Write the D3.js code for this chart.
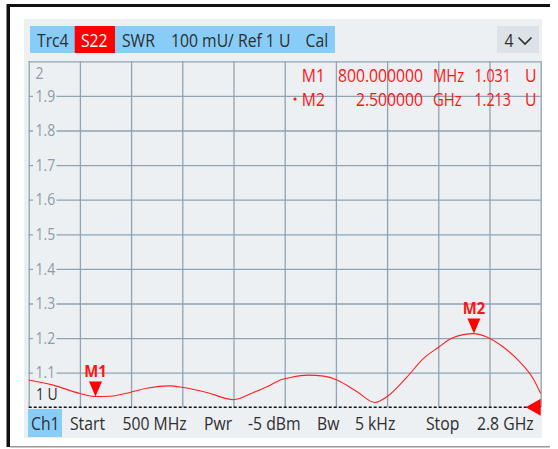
<!DOCTYPE html>
<html>
<head>
<meta charset="utf-8">
<script src="https://cdn.jsdelivr.net/npm/d3@7"></script>
<style>
  html, body { margin: 0; padding: 0; background: #ffffff; }
  svg { display: block; }
  text { font-family: "Open Sans", "Noto Sans", sans-serif; }
</style>
</head>
<body>
<svg id="chart" width="558" height="449"></svg>
<script>
// ---------------- data ----------------
const freqMHz = [500, 610, 730, 800, 865, 955, 1030, 1135, 1195, 1300, 1420, 1510, 1585, 1630,
                 1675, 1755, 1825, 1885, 1975, 2055, 2110, 2200, 2275, 2340, 2405, 2500, 2555,
                 2630, 2705, 2765, 2800];
const swr     = [1.079, 1.064, 1.040, 1.031, 1.032, 1.043, 1.055, 1.062, 1.057, 1.043, 1.022, 1.043,
                 1.064, 1.079, 1.086, 1.093, 1.090, 1.079, 1.045, 1.014, 1.031, 1.088, 1.142, 1.173,
                 1.201, 1.213, 1.204, 1.175, 1.132, 1.084, 1.040];
const yTicks = [1.0, 1.1, 1.2, 1.3, 1.4, 1.5, 1.6, 1.7, 1.8, 1.9, 2.0];
const yTickLabels = ["1 U", "1.1", "1.2", "1.3", "1.4", "1.5", "1.6", "1.7", "1.8", "1.9", "2"];
const xTicks = [500, 730, 960, 1190, 1420, 1650, 1880, 2110, 2340, 2570, 2800];
const markerNames = ["M1", "M2"];
const markerFreqs = [800, 2500];
const markerVals = [1.031, 1.213];
const markerFreqText = ["800.000000", "2.500000"];
const markerUnitText = ["MHz", "GHz"];
const headerItems = ["Trc4", "S22", "SWR", "100 mU/ Ref 1 U", "Cal"];
const footerItems = ["Ch1", "Start", "500 MHz", "Pwr", "-5 dBm", "Bw", "5 kHz", "Stop", "2.8 GHz"];
const channelNumber = "4";

// ---------------- layout ----------------
const svg = d3.select("#chart");
const L = 28.7, R = 540.7, T = 61.3, B = 407.3;
const x = d3.scaleLinear().domain([500, 2800]).range([L, R]);
const y = d3.scaleLinear().domain([1, 2]).range([B, T]);

const RED = "#ff1414", BLUE = "#87cdf8", PANEL = "#edf0f3", GRID = "#8fa3b3",
      TICK = "#8e9ba8", DARK = "#2e2e2e";
const SX = 0.9;

function txt(g, s, px, py, size, fill, anchor, weight, sx) {
  return g.append("text")
    .attr("transform", `translate(${px},${py}) scale(${sx || SX},1)`)
    .attr("font-size", size)
    .attr("fill", fill)
    .attr("text-anchor", anchor || "start")
    .attr("font-weight", weight || "normal")
    .text(s);
}

// outer frame
svg.append("rect").attr("x", 7).attr("y", 4).attr("width", 543).attr("height", 3).attr("fill", "#111");
svg.append("rect").attr("x", 6.5).attr("y", 4).attr("width", 3.5).attr("height", 443).attr("fill", "#111");
svg.append("rect").attr("x", 10).attr("y", 446).attr("width", 540).attr("height", 1.5).attr("fill", "#9a9a9a");

// panel background
svg.append("rect").attr("x", 24).attr("y", 19).attr("width", 518).attr("height", 419).attr("fill", PANEL);

// header bar
const hdr = svg.append("g");
hdr.append("rect").attr("x", 30).attr("y", 26).attr("width", 305).attr("height", 27).attr("fill", BLUE);
hdr.append("rect").attr("x", 74.7).attr("y", 26).attr("width", 40.3).attr("height", 27).attr("fill", "#ff0000");
const hdrX = [37, 81, 122, 171, 305.5];
headerItems.forEach((s, i) => txt(hdr, s, hdrX[i], 47, 17.5, i === 1 ? "#ffffff" : DARK));
hdr.append("rect").attr("x", 497).attr("y", 26).attr("width", 42).attr("height", 27).attr("fill", "#dce2e7");
txt(hdr, channelNumber, 504.5, 47, 17.5, DARK);
hdr.append("path").attr("d", "M518.5,37.5 L525,44 L531.5,37.5").attr("fill", "none")
  .attr("stroke", DARK).attr("stroke-width", 1.6);

// grid via axes
const gx = svg.append("g").attr("transform", `translate(0,${B})`)
  .call(d3.axisBottom(x).tickValues(xTicks).tickSize(-(B - T)).tickFormat(""));
gx.select(".domain").remove();
gx.selectAll("line").attr("stroke", GRID).attr("stroke-width", 1.3);

const gy = svg.append("g").attr("transform", `translate(${L},0)`)
  .call(d3.axisLeft(y).tickValues(yTicks.filter(v => v > 1)).tickSize(-(R - L)).tickFormat(""));
gy.select(".domain").remove();
gy.selectAll("line").attr("stroke", GRID).attr("stroke-width", 1.3);

// y tick labels with masking background
const lab = svg.append("g");
yTicks.forEach((v, i) => {
  const s = yTickLabels[i];
  if (v === 2) {
    txt(lab, s, 35.5, 78.5, 15.5, TICK);
  } else if (v === 1) {
    txt(lab, s, 36, 400, 15.5, DARK);
  } else {
    const yy = y(v);
    lab.append("rect").attr("x", 33).attr("y", yy - 7).attr("width", 23.5).attr("height", 14).attr("fill", PANEL);
    txt(lab, s, 35.5, yy + 5.7, 15.5, TICK);
  }
});

// reference line (dashed) at 1 U
svg.append("line").attr("x1", L).attr("x2", R).attr("y1", y(1)).attr("y2", y(1))
  .attr("stroke", "#111").attr("stroke-width", 1.5).attr("stroke-dasharray", "3,2");

// trace
const data = freqMHz.map((f, i) => [f, swr[i]]);
svg.append("path").datum(data)
  .attr("fill", "none").attr("stroke", "#ff2020").attr("stroke-width", 1.1)
  .attr("d", d3.line().x(d => x(d[0])).y(d => y(d[1])).curve(d3.curveMonotoneX));

// reference level triangle at right edge
svg.append("path")
  .attr("d", `M${R - 15},${y(1)} L${R},${y(1) - 8.5} L${R},${y(1) + 8.5} Z`)
  .attr("fill", "#ff0000");

// markers
const mk = svg.append("g");
markerNames.forEach((m, i) => {
  const mx = x(markerFreqs[i]), my = y(markerVals[i]);
  mk.append("path").attr("d", `M${mx - 6.5},${my - 15} L${mx + 6.5},${my - 15} L${mx},${my} Z`).attr("fill", "#ff0000");
  txt(mk, m, mx, my - 20, 16.5, RED, "middle", "bold");
});

// marker readout
const ro = svg.append("g");
const roY = [81.7, 106];
markerNames.forEach((m, i) => {
  txt(ro, m, 325, roY[i], 17.5, RED, "end");
  txt(ro, markerFreqText[i], 423, roY[i], 17.5, RED, "end");
  txt(ro, markerUnitText[i], 433, roY[i], 17.5, RED, "start", "normal", 0.85);
  txt(ro, markerVals[i].toFixed(3), 511, roY[i], 17.5, RED, "end", "normal", 0.82);
  txt(ro, "U", 525, roY[i], 17.5, RED, "start");
});
ro.append("circle").attr("cx", 295).attr("cy", 99).attr("r", 1.6).attr("fill", RED);

// footer
const ft = svg.append("g");
ft.append("rect").attr("x", 28).attr("y", 409).attr("width", 34).attr("height", 28).attr("fill", BLUE);
const ftX = [31, 70, 122.5, 204, 248, 317, 355, 426, 477];
footerItems.forEach((s, i) => txt(ft, s, ftX[i], 430, 17.5, DARK));
</script>
</body>
</html>
